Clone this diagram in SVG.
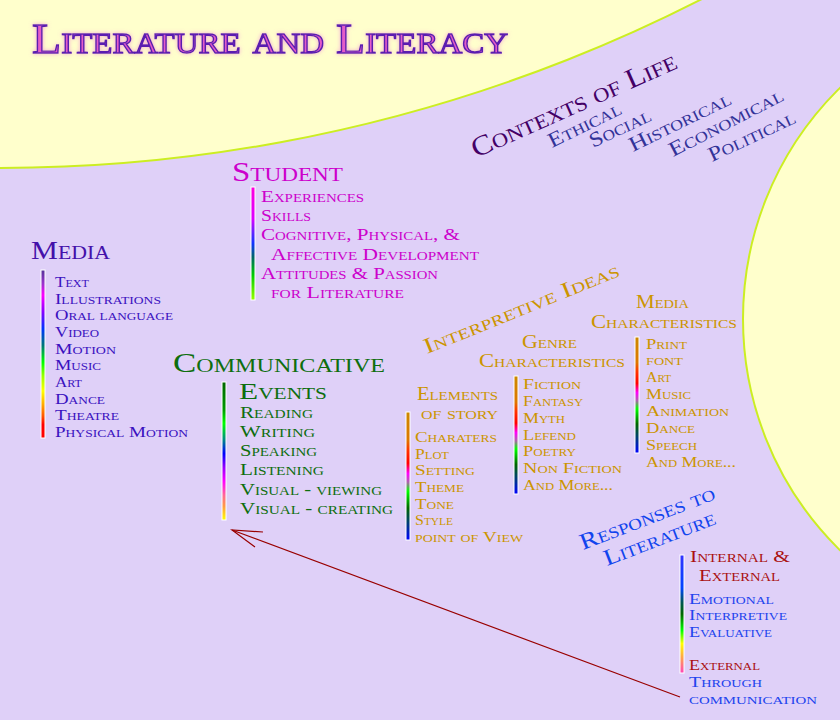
<svg xmlns="http://www.w3.org/2000/svg" width="840" height="720" viewBox="0 0 840 720">
<style>
text{font-family:"Liberation Serif","DejaVu Serif",serif;font-variant:small-caps}
.title{font-size:42px;fill:#E45CC8;stroke:#5A1FB0;stroke-width:1.3px}
.ctx{font-size:28px;fill:#440066}
.ctxs{font-size:21px;fill:#333399}
.stu{fill:#CC00CC}
.med{fill:#3B12C0}
.grn{fill:#0E6E0E}
.gold{fill:#CC9500}
.resp{fill:#1144EE;font-size:23px}
.red{fill:#AA1111}
.blu{fill:#2244EE}
.bar{stroke:#FFFFFF;stroke-width:1}
</style>
<defs>
<filter id="glow" x="-10%" y="-30%" width="120%" height="160%">
<feGaussianBlur in="SourceAlpha" stdDeviation="2.2" result="b"/>
<feFlood flood-color="#F090D8" flood-opacity="0.8"/>
<feComposite in2="b" operator="in" result="g"/>
<feMerge><feMergeNode in="g"/><feMergeNode in="SourceGraphic"/></feMerge>
</filter>
<linearGradient id="gStu" x1="0" y1="0" x2="0" y2="1">
<stop offset="0" stop-color="#FF00DD"/><stop offset="0.28" stop-color="#DD00FF"/><stop offset="0.4" stop-color="#6622FF"/><stop offset="0.5" stop-color="#1133FF"/><stop offset="0.62" stop-color="#006666"/><stop offset="0.78" stop-color="#00CC00"/><stop offset="1" stop-color="#99FF00"/>
</linearGradient>
<linearGradient id="gMed" x1="0" y1="0" x2="0" y2="1">
<stop offset="0" stop-color="#553399"/><stop offset="0.08" stop-color="#9933CC"/><stop offset="0.15" stop-color="#FF00FF"/><stop offset="0.25" stop-color="#8800FF"/><stop offset="0.35" stop-color="#0033FF"/><stop offset="0.45" stop-color="#007777"/><stop offset="0.55" stop-color="#00FF00"/><stop offset="0.63" stop-color="#99FF00"/><stop offset="0.72" stop-color="#FFFF00"/><stop offset="0.8" stop-color="#FFAA00"/><stop offset="0.87" stop-color="#FF5500"/><stop offset="0.92" stop-color="#FF0000"/><stop offset="1" stop-color="#FF0000"/>
</linearGradient>
<linearGradient id="gCom" x1="0" y1="0" x2="0" y2="1">
<stop offset="0" stop-color="#006600"/><stop offset="0.2" stop-color="#009900"/><stop offset="0.3" stop-color="#00FF00"/><stop offset="0.42" stop-color="#008888"/><stop offset="0.52" stop-color="#0000FF"/><stop offset="0.62" stop-color="#9900FF"/><stop offset="0.72" stop-color="#FF00FF"/><stop offset="0.82" stop-color="#FF6699"/><stop offset="0.9" stop-color="#FF9944"/><stop offset="1" stop-color="#FFFF00"/>
</linearGradient>
<linearGradient id="gGold" x1="0" y1="0" x2="0" y2="1">
<stop offset="0" stop-color="#CC8800"/><stop offset="0.22" stop-color="#DD7700"/><stop offset="0.3" stop-color="#FF3300"/><stop offset="0.4" stop-color="#FF0000"/><stop offset="0.48" stop-color="#FF00FF"/><stop offset="0.55" stop-color="#AA66AA"/><stop offset="0.62" stop-color="#00FF00"/><stop offset="0.75" stop-color="#006600"/><stop offset="0.85" stop-color="#004466"/><stop offset="1" stop-color="#0000FF"/>
</linearGradient>
<linearGradient id="gResp" x1="0" y1="0" x2="0" y2="1">
<stop offset="0" stop-color="#3333FF"/><stop offset="0.28" stop-color="#0044FF"/><stop offset="0.4" stop-color="#005555"/><stop offset="0.5" stop-color="#006600"/><stop offset="0.64" stop-color="#00FF00"/><stop offset="0.75" stop-color="#FFFF00"/><stop offset="0.86" stop-color="#FFAA44"/><stop offset="1" stop-color="#FF44BB"/>
</linearGradient>
</defs>

<rect x="0" y="0" width="840" height="720" fill="#DFD0F8"/>
<circle cx="0" cy="-1374" r="1542" fill="#FFFFCC" stroke="#CCEE22" stroke-width="2"/>
<circle cx="1067" cy="319" r="324" fill="#FFFFCC" stroke="#CCEE22" stroke-width="2"/>

<g id="title">
<text class="title" x="32" y="53" textLength="476" lengthAdjust="spacingAndGlyphs" filter="url(#glow)">Literature and Literacy</text>
</g>

<g id="contexts">
<text class="ctx" transform="translate(476,158) rotate(-24)" textLength="222" lengthAdjust="spacingAndGlyphs">Contexts of Life</text>
<text class="ctxs" transform="translate(552,148) rotate(-26)" textLength="79" lengthAdjust="spacingAndGlyphs">Ethical</text>
<text class="ctxs" transform="translate(593,148) rotate(-25)" textLength="66" lengthAdjust="spacingAndGlyphs">Social</text>
<text class="ctxs" transform="translate(633,152) rotate(-26)" textLength="111" lengthAdjust="spacingAndGlyphs">Historical</text>
<text class="ctxs" transform="translate(673,157) rotate(-27)" textLength="126" lengthAdjust="spacingAndGlyphs">Economical</text>
<text class="ctxs" transform="translate(712,162) rotate(-25)" textLength="94" lengthAdjust="spacingAndGlyphs">Political</text>
</g>

<g id="student">
<text class="stu" x="232" y="181" font-size="27" textLength="111" lengthAdjust="spacingAndGlyphs">Student</text>
<rect class="bar" x="251" y="187" width="4" height="113" fill="url(#gStu)"/>
<g class="stu" font-size="17">
<text x="261" y="202" textLength="103" lengthAdjust="spacingAndGlyphs">Experiences</text>
<text x="261" y="221" textLength="50" lengthAdjust="spacingAndGlyphs">Skills</text>
<text x="261" y="240" textLength="199" lengthAdjust="spacingAndGlyphs">Cognitive, Physical, &amp;</text>
<text x="271" y="260" textLength="208" lengthAdjust="spacingAndGlyphs">Affective Development</text>
<text x="261" y="279" textLength="177" lengthAdjust="spacingAndGlyphs">Attitudes &amp; Passion</text>
<text x="271" y="298" textLength="133" lengthAdjust="spacingAndGlyphs">for Literature</text>
</g>
</g>

<g id="media">
<text x="31" y="259" font-size="25" fill="#4411AA" textLength="79" lengthAdjust="spacingAndGlyphs">Media</text>
<rect class="bar" x="41" y="270" width="4" height="168" fill="url(#gMed)"/>
<g class="med" font-size="15.5">
<text x="55" y="287" textLength="34" lengthAdjust="spacingAndGlyphs">Text</text>
<text x="55" y="303.7" textLength="106" lengthAdjust="spacingAndGlyphs">Illustrations</text>
<text x="55" y="320.3" textLength="118" lengthAdjust="spacingAndGlyphs">Oral language</text>
<text x="55" y="337" textLength="44" lengthAdjust="spacingAndGlyphs">Video</text>
<text x="55" y="353.6" textLength="61" lengthAdjust="spacingAndGlyphs">Motion</text>
<text x="55" y="370.3" textLength="46" lengthAdjust="spacingAndGlyphs">Music</text>
<text x="55" y="387" textLength="27" lengthAdjust="spacingAndGlyphs">Art</text>
<text x="55" y="403.6" textLength="50" lengthAdjust="spacingAndGlyphs">Dance</text>
<text x="55" y="420.2" textLength="64" lengthAdjust="spacingAndGlyphs">Theatre</text>
<text x="55" y="437" textLength="133" lengthAdjust="spacingAndGlyphs">Physical Motion</text>
</g>
</g>

<g id="communicative">
<text class="grn" x="173" y="372" font-size="27.5" textLength="212" lengthAdjust="spacingAndGlyphs">Communicative</text>
<text class="grn" x="239" y="399" font-size="23.5" textLength="88" lengthAdjust="spacingAndGlyphs">Events</text>
<rect class="bar" x="222" y="382" width="4" height="138" fill="url(#gCom)"/>
<g class="grn" font-size="16.5">
<text x="240" y="417.5" textLength="73" lengthAdjust="spacingAndGlyphs">Reading</text>
<text x="240" y="437" textLength="75" lengthAdjust="spacingAndGlyphs">Writing</text>
<text x="240" y="456" textLength="77" lengthAdjust="spacingAndGlyphs">Speaking</text>
<text x="240" y="475" textLength="84" lengthAdjust="spacingAndGlyphs">Listening</text>
<text x="240" y="495" textLength="142" lengthAdjust="spacingAndGlyphs">Visual - viewing</text>
<text x="240" y="514" textLength="153" lengthAdjust="spacingAndGlyphs">Visual - creating</text>
</g>
</g>

<g id="interpretive">
<text class="gold" font-size="22" transform="translate(427,354) rotate(-22)" textLength="209" lengthAdjust="spacingAndGlyphs">Interpretive  Ideas</text>
</g>

<g id="media-characteristics">
<text class="gold" x="636" y="308" font-size="19" textLength="53" lengthAdjust="spacingAndGlyphs">Media</text>
<text class="gold" x="591" y="328" font-size="19" textLength="146" lengthAdjust="spacingAndGlyphs">Characteristics</text>
<rect class="bar" x="635" y="337" width="4" height="116" fill="url(#gGold)"/>
<g class="gold" font-size="15.5">
<text x="646" y="348.5" textLength="41" lengthAdjust="spacingAndGlyphs">Print</text>
<text x="646" y="365.3" textLength="37" lengthAdjust="spacingAndGlyphs">font</text>
<text x="646" y="382" textLength="25" lengthAdjust="spacingAndGlyphs">Art</text>
<text x="646" y="399" textLength="45" lengthAdjust="spacingAndGlyphs">Music</text>
<text x="646" y="416" textLength="83" lengthAdjust="spacingAndGlyphs">Animation</text>
<text x="646" y="433" textLength="49" lengthAdjust="spacingAndGlyphs">Dance</text>
<text x="646" y="450" textLength="51" lengthAdjust="spacingAndGlyphs">Speech</text>
<text x="646" y="467" textLength="90" lengthAdjust="spacingAndGlyphs">And More...</text>
</g>
</g>

<g id="genre">
<text class="gold" x="522" y="348" font-size="19" textLength="55" lengthAdjust="spacingAndGlyphs">Genre</text>
<text class="gold" x="479" y="367" font-size="19" textLength="146" lengthAdjust="spacingAndGlyphs">Characteristics</text>
<rect class="bar" x="514" y="376" width="4" height="118" fill="url(#gGold)"/>
<g class="gold" font-size="15.5">
<text x="523" y="389" textLength="58" lengthAdjust="spacingAndGlyphs">Fiction</text>
<text x="523" y="406" textLength="60" lengthAdjust="spacingAndGlyphs">Fantasy</text>
<text x="523" y="423" textLength="42" lengthAdjust="spacingAndGlyphs">Myth</text>
<text x="523" y="439.5" textLength="53" lengthAdjust="spacingAndGlyphs">Lefend</text>
<text x="523" y="456" textLength="53" lengthAdjust="spacingAndGlyphs">Poetry</text>
<text x="523" y="473" textLength="99" lengthAdjust="spacingAndGlyphs">Non Fiction</text>
<text x="523" y="489.5" textLength="90" lengthAdjust="spacingAndGlyphs">And More...</text>
</g>
</g>

<g id="elements">
<text class="gold" x="417" y="400" font-size="18" textLength="81" lengthAdjust="spacingAndGlyphs">Elements</text>
<text class="gold" x="421" y="419" font-size="18" textLength="77" lengthAdjust="spacingAndGlyphs">of story</text>
<rect class="bar" x="406" y="412" width="4" height="128" fill="url(#gGold)"/>
<g class="gold" font-size="15.5">
<text x="415" y="442" textLength="82" lengthAdjust="spacingAndGlyphs">Charaters</text>
<text x="415" y="458.5" textLength="34" lengthAdjust="spacingAndGlyphs">Plot</text>
<text x="415" y="475" textLength="60" lengthAdjust="spacingAndGlyphs">Setting</text>
<text x="415" y="492" textLength="49" lengthAdjust="spacingAndGlyphs">Theme</text>
<text x="415" y="508.5" textLength="39" lengthAdjust="spacingAndGlyphs">Tone</text>
<text x="415" y="525" textLength="38" lengthAdjust="spacingAndGlyphs">Style</text>
<text x="415" y="542" textLength="108" lengthAdjust="spacingAndGlyphs">point of View</text>
</g>
</g>

<g id="responses">
<text class="resp" transform="translate(583,550) rotate(-21)" textLength="143" lengthAdjust="spacingAndGlyphs">Responses to</text>
<text class="resp" transform="translate(607,566) rotate(-21)" textLength="118" lengthAdjust="spacingAndGlyphs">Literature</text>
<rect class="bar" x="680" y="555" width="4" height="118" fill="url(#gResp)"/>
<text class="red" x="690" y="562" font-size="17" textLength="100" lengthAdjust="spacingAndGlyphs">Internal &amp;</text>
<text class="red" x="699" y="581" font-size="17" textLength="81" lengthAdjust="spacingAndGlyphs">External</text>
<g class="blu" font-size="15.5">
<text x="689" y="603.5" textLength="85" lengthAdjust="spacingAndGlyphs">Emotional</text>
<text x="689" y="620" textLength="98" lengthAdjust="spacingAndGlyphs">Interpretive</text>
<text x="689" y="637" textLength="83" lengthAdjust="spacingAndGlyphs">Evaluative</text>
</g>
<text class="red" x="689" y="670" font-size="15.5" textLength="71" lengthAdjust="spacingAndGlyphs">External</text>
<g class="blu" font-size="15.5">
<text x="689" y="687" textLength="73" lengthAdjust="spacingAndGlyphs">Through</text>
<text x="689" y="704" textLength="128" lengthAdjust="spacingAndGlyphs">communication</text>
</g>
</g>

<g id="connectors" stroke="#990000" stroke-width="1.2" fill="none">
<line x1="680" y1="697" x2="232" y2="530"/>
<polyline points="263,532 232,530 255,547"/>
</g>
</svg>
